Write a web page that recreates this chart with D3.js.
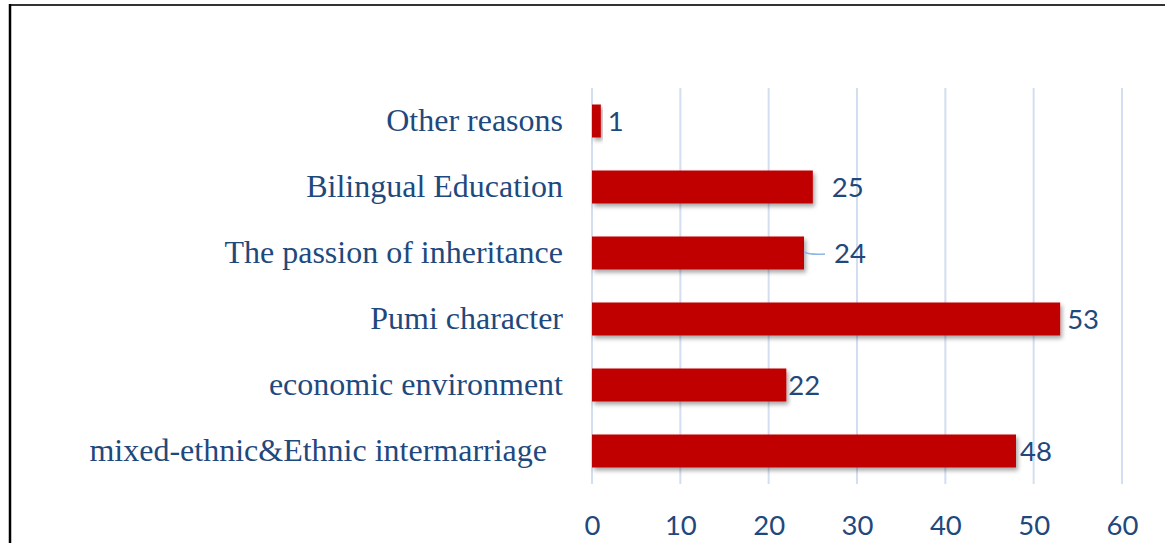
<!DOCTYPE html>
<html>
<head>
<meta charset="utf-8">
<script src="https://cdn.jsdelivr.net/npm/d3@7"></script>
<style>
  html, body { margin: 0; padding: 0; background: #fff; }
  svg { display: block; }
</style>
</head>
<body>
<svg id="chart" width="1165" height="543"></svg>
<script>
// Reasons, listed top to bottom, with the count for each
const categories = [
  "Other reasons",
  "Bilingual Education",
  "The passion of inheritance",
  "Pumi character",
  "economic environment",
  "mixed-ethnic&Ethnic intermarriage  "
];
const values = [1, 25, 24, 53, 22, 48];
const tickValues = [0, 10, 20, 30, 40, 50, 60];

// Horizontal nudges for the value labels (pixels past the bar end)
const labelNudge = [7, 19, 30, 7, 2, 4];

const W = 1165, H = 543;
const plot = { left: 592, right: 1122, top: 88, bottom: 484 };

const svg = d3.select("#chart");

const defs = svg.append("defs");
const f = defs.append("filter").attr("id", "barShadow")
  .attr("x", "-10%").attr("y", "-30%").attr("width", "130%").attr("height", "180%");
f.append("feDropShadow").attr("dx", 2).attr("dy", 3).attr("stdDeviation", 2)
  .attr("flood-color", "#000").attr("flood-opacity", 0.35);

// Frame: top rule and left rule
svg.append("line").attr("x1", 9).attr("x2", W).attr("y1", 5).attr("y2", 5)
  .attr("stroke", "#333").attr("stroke-width", 2);
svg.append("line").attr("x1", 10).attr("x2", 10).attr("y1", 4).attr("y2", H)
  .attr("stroke", "#000").attr("stroke-width", 2.5);

const x = d3.scaleLinear().domain([0, 60]).range([plot.left, plot.right]);
const y = d3.scaleBand().domain(categories).range([plot.top, plot.bottom])
  .paddingInner(0.5).paddingOuter(0.25);

// Vertical gridlines
svg.append("g").selectAll("line").data(tickValues).join("line")
  .attr("x1", d => x(d)).attr("x2", d => x(d))
  .attr("y1", plot.top).attr("y2", plot.bottom)
  .attr("stroke", "#D3DFF0").attr("stroke-width", 2);

// Bars
svg.append("g").selectAll("rect").data(values).join("rect")
  .attr("x", x(0))
  .attr("y", (d, i) => y(categories[i]))
  .attr("width", d => x(d) - x(0))
  .attr("height", y.bandwidth())
  .attr("fill", "#C00000")
  .attr("filter", "url(#barShadow)");

// Category labels
svg.append("g").selectAll("text").data(categories).join("text")
  .attr("x", 563)
  .attr("y", d => y(d) + y.bandwidth() / 2 + 10)
  .attr("text-anchor", "end")
  .style("white-space", "pre")
  .attr("font-family", "'Liberation Serif', 'Times New Roman', serif")
  .attr("font-size", 32)
  .attr("fill", "#1F497D")
  .text(d => d);

// Leader line for the label that sits away from its bar
const leaderIdx = 2;
{
  const bx = x(values[leaderIdx]);
  const by = y(categories[leaderIdx]) + y.bandwidth() / 2;
  svg.append("path")
    .attr("d", `M${bx},${by - 1} Q${bx + 6},${by + 2} ${bx + 21},${by + 1}`)
    .attr("fill", "none").attr("stroke", "#8EB4E3").attr("stroke-width", 1.5);
}

// Value labels
svg.append("g").selectAll("text").data(values).join("text")
  .attr("x", (d, i) => x(d) + labelNudge[i])
  .attr("y", (d, i) => y(categories[i]) + y.bandwidth() / 2 + 10)
  .attr("font-family", "Lato, 'Open Sans', sans-serif")
  .attr("font-size", 27.5)
  .attr("fill", "#1F497D")
  .text(d => d);

// Value axis along the bottom
const axis = svg.append("g")
  .attr("transform", `translate(0,${plot.bottom})`)
  .call(d3.axisBottom(x).tickValues(tickValues).tickSize(0).tickPadding(0));
axis.select(".domain").remove();
axis.selectAll("text")
  .attr("y", 51).attr("dy", 0)
  .attr("font-family", "Lato, 'Open Sans', sans-serif")
  .attr("font-size", 27.5)
  .attr("fill", "#1F497D");
</script>
</body>
</html>
